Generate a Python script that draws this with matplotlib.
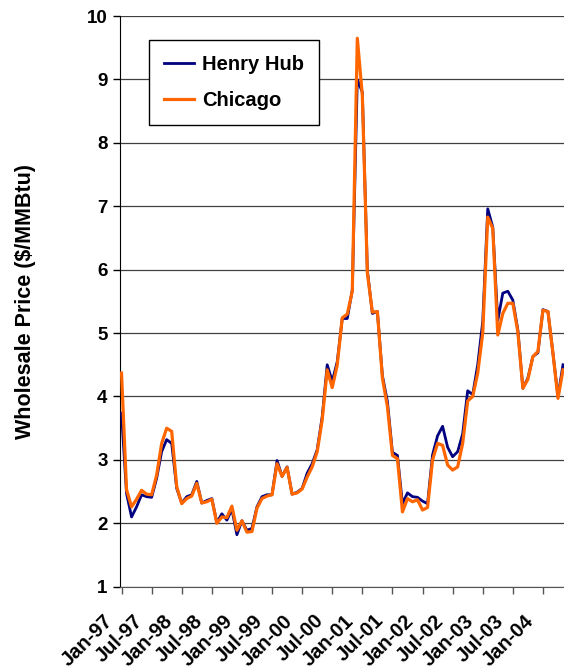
import matplotlib.pyplot as plt
import matplotlib.transforms as mtransforms
import pandas as pd

plt.rcParams['font.family'] = ['Liberation Sans', 'DejaVu Sans']
plt.rcParams['font.weight'] = 'bold'

# monthly prices, Jan-97 .. May-04 ($/MMBtu)
months = pd.date_range("1997-01-01", "2004-05-01", freq="MS")

henry_hub = [
    3.74, 2.47, 2.10, 2.26, 2.45, 2.42, 2.41, 2.71, 3.13, 3.32, 3.26, 2.55,
    2.32, 2.42, 2.45, 2.66, 2.32, 2.36, 2.39, 2.01, 2.15, 2.05, 2.22, 1.82,
    2.04, 1.89, 1.92, 2.26, 2.42, 2.45, 2.45, 2.99, 2.74, 2.89, 2.46, 2.49,
    2.55, 2.79, 2.94, 3.16, 3.68, 4.50, 4.24, 4.55, 5.23, 5.23, 5.68, 9.00,
    8.80, 5.99, 5.31, 5.34, 4.33, 3.92, 3.12, 3.07, 2.31, 2.48, 2.42, 2.41,
    2.35, 2.31, 3.08, 3.38, 3.53, 3.20, 3.05, 3.13, 3.41, 4.09, 4.03, 4.50,
    5.18, 6.96, 6.67, 5.20, 5.63, 5.66, 5.52, 5.05, 4.13, 4.29, 4.63, 4.69,
    5.37, 5.34, 4.68, 4.00, 4.50,
]

chicago = [
    4.37, 2.53, 2.26, 2.38, 2.52, 2.46, 2.45, 2.76, 3.26, 3.50, 3.45, 2.58,
    2.31, 2.39, 2.43, 2.63, 2.32, 2.34, 2.38, 2.00, 2.10, 2.09, 2.27, 1.89,
    2.04, 1.86, 1.87, 2.24, 2.39, 2.43, 2.45, 2.94, 2.74, 2.88, 2.46, 2.48,
    2.54, 2.73, 2.89, 3.13, 3.63, 4.42, 4.14, 4.50, 5.24, 5.30, 5.66, 9.65,
    8.75, 5.95, 5.33, 5.34, 4.29, 3.84, 3.07, 3.02, 2.18, 2.39, 2.34, 2.37,
    2.21, 2.25, 3.00, 3.26, 3.23, 2.92, 2.84, 2.89, 3.26, 3.93, 4.00, 4.37,
    5.00, 6.83, 6.65, 4.97, 5.31, 5.47, 5.47, 5.02, 4.13, 4.27, 4.63, 4.71,
    5.36, 5.34, 4.68, 3.97, 4.42,
]

x = list(range(len(months)))
tick_pos = x[::6]
tick_labels = [m.strftime("%b-%y") for m in months[::6]]

fig = plt.figure(figsize=(5.64, 6.69), dpi=100)
ax = fig.add_axes([0.2128, 0.123, 0.7872, 0.853])

ax.plot(x, henry_hub, color="#000080", lw=2.0, label="Henry Hub", zorder=3)
ax.plot(x, chicago, color="#FF6600", lw=2.3, label="Chicago", zorder=4)

ax.set_ylim(1, 10)
ax.set_xlim(-0.3, 88.2)
ax.set_yticks(range(1, 11))
ax.set_xticks(tick_pos)
ax.set_xticklabels([])

# rotated date labels, placed below and left of each tick like the Excel original
trans = mtransforms.blended_transform_factory(ax.transData, ax.transAxes) + \
    mtransforms.ScaledTranslation(-0.12, -0.31, fig.dpi_scale_trans)
for pos, lab in zip(tick_pos, tick_labels):
    ax.text(pos, 0, lab, transform=trans, rotation=45, ha="right", va="center",
            rotation_mode="anchor", fontsize=14.5, fontweight="bold", clip_on=False)

ax.tick_params(axis="y", labelsize=13.5, length=5, width=1, direction="out", pad=4)
ax.tick_params(axis="x", length=5, width=1, color="#555555", direction="out", pad=3)

ax.grid(axis="y", color="#404040", lw=0.9)
ax.set_axisbelow(True)
for s in ["top", "right"]:
    ax.spines[s].set_visible(False)
ax.spines["left"].set_color("black")
ax.spines["bottom"].set_color("#555555")

ax.set_ylabel("Wholesale Price ($/MMBtu)", fontsize=15.5, fontweight="bold")
ax.yaxis.set_label_coords(-0.189, 0.50)

leg = ax.legend(loc="upper left", bbox_to_anchor=(0.065, 0.958), fontsize=14.5,
                frameon=True, fancybox=False, handlelength=1.5, borderpad=0.75,
                labelspacing=0.85, handletextpad=0.4, borderaxespad=0)
leg.get_frame().set_edgecolor("black")
leg.get_frame().set_linewidth(1.0)
leg.get_frame().set_alpha(1)

plt.savefig("out.png", dpi=100)
